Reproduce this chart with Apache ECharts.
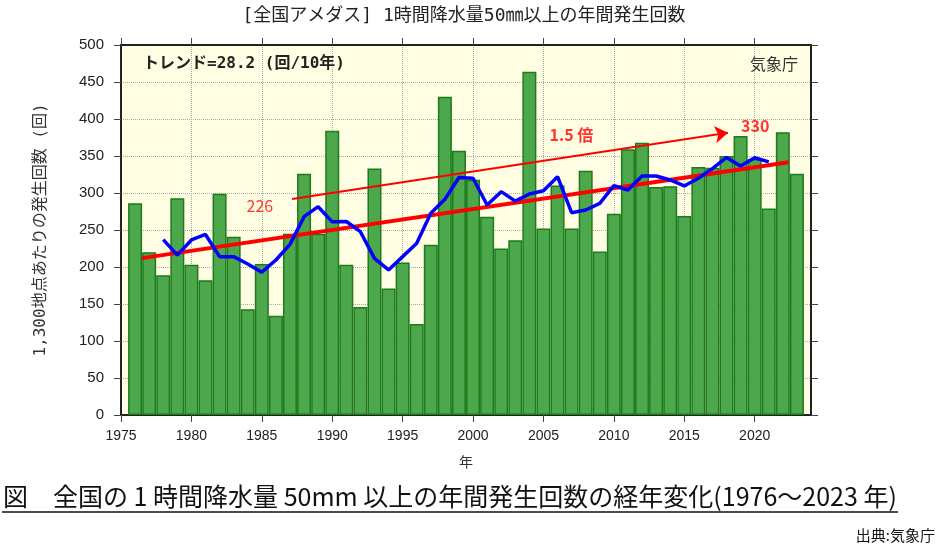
<!DOCTYPE html>
<html><head><meta charset="utf-8">
<script src="https://cdn.jsdelivr.net/npm/echarts@6/dist/echarts.min.js"></script>
<style>html,body{margin:0;padding:0;background:#fff}#c{width:940px;height:550px}</style>
</head><body><div id="c"></div>
<script>
// ---- data ----
const years = [1976,1977,1978,1979,1980,1981,1982,1983,1984,1985,1986,1987,1988,1989,1990,1991,1992,1993,1994,1995,1996,1997,1998,1999,2000,2001,2002,2003,2004,2005,2006,2007,2008,2009,2010,2011,2012,2013,2014,2015,2016,2017,2018,2019,2020,2021,2022,2023];
const counts = [286,220,189,293,203,182,299,241,143,204,134,245,326,245,384,203,146,333,171,206,123,230,430,357,318,268,225,236,464,252,310,252,330,221,272,359,368,308,309,269,335,334,350,377,346,279,382,326];
const avgYears = [1978,1979,1980,1981,1982,1983,1984,1985,1986,1987,1988,1989,1990,1991,1992,1993,1994,1995,1996,1997,1998,1999,2000,2001,2002,2003,2004,2005,2006,2007,2008,2009,2010,2011,2012,2013,2014,2015,2016,2017,2018,2019,2020,2021];
const avg5 = [237,216,236.5,244,214,214,204,193,209.5,230.6,268,281.5,261,261.5,247.7,211.7,196,214,232,272.5,291.4,321,320,283.8,301.8,289,298.6,303,322,273.4,277,286,310,304,323,323,317.6,309.5,320,333,348,336.5,347.7,342];
const trendYears = [1976.5, 2022.4];
const trendValues = [212, 341.5];
const arrowYears = [1987.15, 2018.1];
const arrowValues = [292, 381.5];
const noteYears = [1984.86, 2006.99, 2020.04];
const noteValues = [282.4, 378.4, 390.5];
const noteTexts = ['226', '1.5 倍', '330'];
const xTicks = [1975,1980,1985,1990,1995,2000,2005,2010,2015,2020];
const yTicks = [0,50,100,150,200,250,300,350,400,450,500];

const chart = echarts.init(document.getElementById('c'), null, {renderer:'canvas'});
const numFont = 'Liberation Sans, Arial, sans-serif';
const jpFont = 'Noto Sans CJK JP, sans-serif';
const monoJp = '"DejaVu Sans Mono", "Noto Sans CJK JP", monospace';
const tickStyle = {show:true, inside:false, length:7, lineStyle:{color:'#444', width:1}};
const option = {
  backgroundColor:'#ffffff',
  animation:false,
  grid:{left:121, right:129, top:45, bottom:135, show:true, backgroundColor:'#fffee3', borderColor:'#222', borderWidth:2},
  xAxis:[
    {type:'value', position:'bottom', min:1975, max:2024,
     axisLine:{show:true, onZero:false, lineStyle:{color:'#222', width:2}},
     axisTick:Object.assign({customValues:xTicks}, tickStyle),
     axisLabel:{customValues:xTicks, formatter:(v)=>String(v), color:'#222', fontSize:14, fontFamily:numFont, margin:14},
     splitLine:{show:true, lineStyle:{type:'dotted', color:'#a8a8a8', width:1}},
     name:'年', nameLocation:'middle', nameGap:40,
     nameTextStyle:{fontFamily:jpFont, fontSize:14, color:'#333'}},
    {type:'value', position:'top', min:1975, max:2024,
     axisLine:{show:true, onZero:false, lineStyle:{color:'#222', width:2}},
     axisTick:Object.assign({customValues:xTicks}, tickStyle),
     axisLabel:{show:false}, splitLine:{show:false}}
  ],
  yAxis:[
    {type:'value', position:'left', min:0, max:500, interval:50,
     axisLine:{show:true, onZero:false, lineStyle:{color:'#222', width:2}},
     axisTick:Object.assign({customValues:yTicks}, tickStyle),
     axisLabel:{customValues:yTicks, color:'#222', fontSize:15, fontFamily:numFont, margin:17},
     splitLine:{show:true, lineStyle:{type:'dotted', color:'#a8a8a8', width:1}},
     name:'1,300地点あたりの発生回数 (回)', nameLocation:'middle', nameGap:72,
     nameTextStyle:{fontFamily:monoJp, fontSize:16, color:'#333'}},
    {type:'value', position:'right', min:0, max:500, interval:50,
     axisLine:{show:true, onZero:false, lineStyle:{color:'#222', width:2}},
     axisTick:Object.assign({customValues:yTicks}, tickStyle),
     axisLabel:{show:false}, splitLine:{show:false}}
  ],
  series:[
    {type:'bar', xAxisIndex:0, yAxisIndex:0, barWidth:14,
     data:years.map((y,i)=>[y, counts[i]]),
     itemStyle:{color:'#4ca84a', borderColor:'#1d7a1d', borderWidth:1.5}, z:2},
    {type:'line', xAxisIndex:0, yAxisIndex:0, symbol:'none',
     data:trendYears.map((y,i)=>[y, trendValues[i]]),
     lineStyle:{color:'#ff0000', width:4}, z:3},
    {type:'line', xAxisIndex:0, yAxisIndex:0, symbol:'none',
     data:avgYears.map((y,i)=>[y, avg5[i]]),
     lineStyle:{color:'#0000ff', width:3.5}, z:4},
    {type:'line', xAxisIndex:0, yAxisIndex:0, symbol:'none', data:[], z:5,
     markLine:{silent:true, symbol:['none','arrow'], symbolSize:13, label:{show:false},
       lineStyle:{color:'#ff0000', width:2, type:'solid'},
       data:[[{coord:[arrowYears[0], arrowValues[0]]},{coord:[arrowYears[1], arrowValues[1]]}]]}},
    {type:'scatter', xAxisIndex:0, yAxisIndex:0, symbolSize:0, z:6,
     data:noteYears.map((y,i)=>({value:[y, noteValues[i]],
       label:{show:true, position:'inside', formatter:noteTexts[i], color:'#ff0000', fontSize:16,
         fontFamily:jpFont, fontWeight: i===0 ? 'normal' : 'bold'}}))}
  ],
  graphic:[
    {type:'text', style:{text:'[全国アメダス] 1時間降水量50㎜以上の年間発生回数', x:464, y:16,
      textAlign:'center', textVerticalAlign:'middle', font:'18px '+monoJp, fill:'#222'}},
    {type:'text', style:{text:'トレンド=28.2 (回/10年)', x:143, y:64, textAlign:'left', textVerticalAlign:'middle', font:'bold 16px '+monoJp, fill:'#222'}, z:10},
    {type:'text', style:{text:'気象庁', x:798, y:64, textAlign:'right', textVerticalAlign:'middle', font:'16px '+jpFont, fill:'#333'}, z:10},
    {type:'text', style:{text:'図　全国の 1 時間降水量 50mm 以上の年間発生回数の経年変化(1976～2023 年)', x:3, y:496, textAlign:'left', textVerticalAlign:'middle', font:'25px '+jpFont, fill:'#111'}},
    {type:'line', shape:{x1:2, y1:512, x2:898, y2:512}, style:{stroke:'#111', lineWidth:1.5}},
    {type:'text', style:{text:'出典:気象庁', x:935, y:535, textAlign:'right', textVerticalAlign:'middle', font:'15px '+jpFont, fill:'#111'}}
  ]
};
chart.setOption(option);
</script></body></html>
